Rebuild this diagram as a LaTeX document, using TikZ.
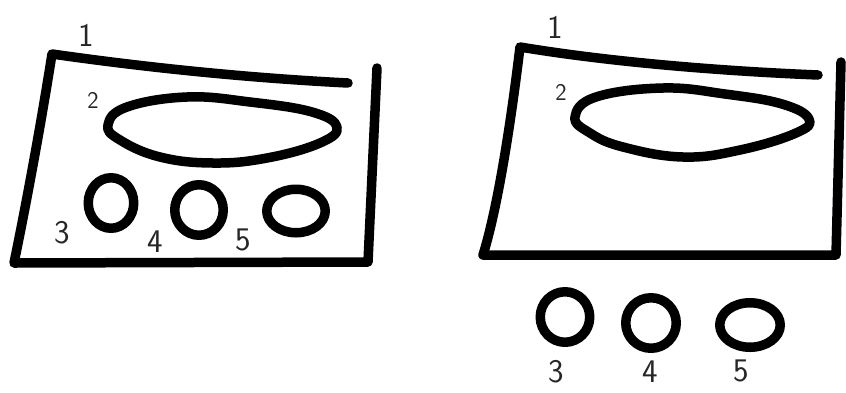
\documentclass[tikz,border=0pt]{standalone}
\usepackage{tikz}
\usetikzlibrary{shapes.geometric}

\begin{document}
\begin{tikzpicture}[x=1pt, y=-1pt,
  every node/.style={font=\sffamily\fontsize{33}{38}\selectfont, text=black!85, inner sep=0pt},
  stroke/.style={line width=9.5pt, line cap=round, line join=round},
  blob/.style={draw, ellipse, stroke, inner sep=0pt}
]
  \useasboundingbox (0,0) rectangle (846,392);

  % left panel: parts inside the case
  \draw[stroke] (348,83) .. controls (250,78) and (150,68) .. (52,54)
    .. controls (40,130) and (25,210) .. (14,263) -- (368,262) -- (377,68);
  \draw[stroke] plot[smooth cycle, tension=0.7] coordinates
    {(108,125) (127,107) (187,97) (250,102) (312,112) (337,127)
     (320,143) (267,158) (213,163) (160,157) (120,140)};
  \node[blob, minimum width=45.5pt, minimum height=50.5pt] (lc3) at (111,203) {};
  \node[blob, minimum width=48.5pt, minimum height=50.5pt] (lc4) at (199,210) {};
  \node[blob, minimum width=58.5pt, minimum height=43.5pt] (lc5) at (296,211) {};

  \node (ll1) at (86,35) {1};
  \node[font=\sffamily\fontsize{24}{28}\selectfont] (ll2) at (93,100) {2};
  \node (ll3) at (62,233) {3};
  \node (ll4) at (155,242) {4};
  \node (ll5) at (243,240) {5};

  % right panel: small parts taken out
  \draw[stroke] (818,75) .. controls (720,71) and (610,62) .. (520,47)
    .. controls (510,130) and (497,210) .. (483,255) -- (836,255) -- (841,62);
  \draw[stroke] plot[smooth cycle, tension=0.7] coordinates
    {(575,117) (596,97) (663,88) (725,94) (782,104) (809,119)
     (796,133) (740,150) (683,157) (623,147) (590,133)};
  \node[blob, minimum width=49.5pt, minimum height=50.5pt] (rc3) at (565,317) {};
  \node[blob, minimum width=50.5pt, minimum height=50.5pt] (rc4) at (651,323) {};
  \node[blob, minimum width=60.5pt, minimum height=44.5pt] (rc5) at (750,325) {};

  \node (rl1) at (555,27) {1};
  \node[font=\sffamily\fontsize{24}{28}\selectfont] (rl2) at (561,92) {2};
  \node (rl3) at (556,372) {3};
  \node (rl4) at (650,372) {4};
  \node (rl5) at (741,371) {5};
\end{tikzpicture}
\end{document}
